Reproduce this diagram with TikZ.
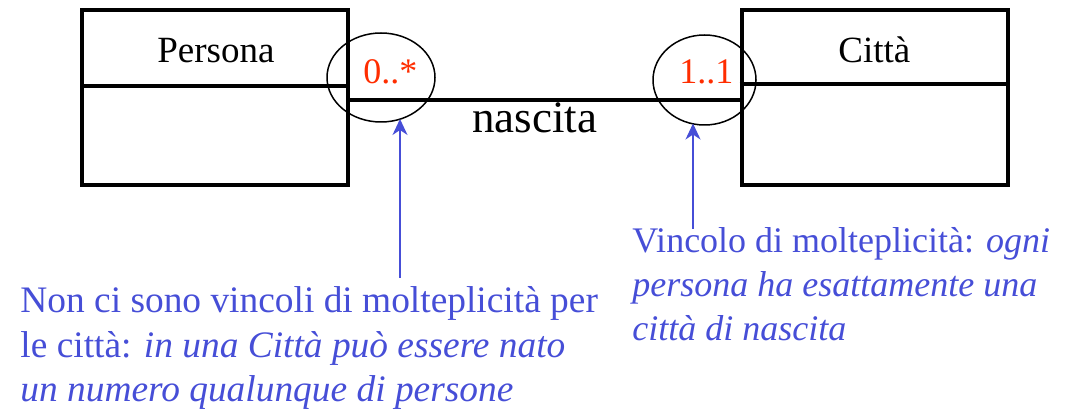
\documentclass[tikz,border=0pt]{standalone}
\usepackage{fontspec}
\setmainfont{Liberation Serif}
\usetikzlibrary{arrows.meta,shapes.geometric}

\definecolor{multred}{RGB}{255,45,0}
\definecolor{noteblue}{RGB}{70,78,215}

\begin{document}
\begin{tikzpicture}[x=0.5pt, y=-0.5pt,
	classbox/.style={draw, line width=2pt, minimum width=133pt, minimum height=87.5pt, inner sep=0pt},
	multring/.style={draw, ellipse, line width=0.75pt, inner sep=0pt},
	multtext/.style={text=multred, font=\fontsize{18}{22}\selectfont, inner sep=0pt, anchor=base west},
	note/.style={text=noteblue, font=\fontsize{18}{22}\selectfont, align=left, inner sep=0pt, anchor=base west},
	notearrow/.style={noteblue, line width=0.8pt, -{Stealth[length=8pt, width=7.5pt, inset=2.5pt]}}]
	\useasboundingbox (0,0) rectangle (1074,410);
	% classes
	\node[classbox] (persona) at (215,97.5) {};
	\node[classbox] (citta) at (874.5,97.5) {};
	\draw[line width=2pt] (persona.west |- 0,86) -- (persona.east |- 0,86);
	\draw[line width=2pt] (citta.west |- 0,84) -- (citta.east |- 0,84);
	\node[anchor=base west, inner sep=0pt, font=\fontsize{18.5}{22}\selectfont] (personaname) at (157,63) {Persona};
	\node[anchor=base west, inner sep=0pt, font=\fontsize{18.5}{22}\selectfont] (cittaname) at (838,63) {Città};
	% association
	\draw[line width=2pt] (persona.east |- 0,100) -- (citta.west |- 0,100);
	\node[anchor=base west, inner sep=0pt, font=\fontsize{22.5}{26}\selectfont] (assoc) at (472,133) {nascita};
	% multiplicities
	\node[multring, minimum width=54pt, minimum height=44.5pt] (mult0) at (381,77.5) {};
	\node[multring, minimum width=51.5pt, minimum height=45pt] (mult1) at (704.5,80) {};
	\node[multtext] (lab0) at (363,84) {0..*};
	\node[multtext] (lab1) at (679,84) {1..1};
	% notes (base = last line)
	\node[note, font=\fontsize{18.7}{22}\selectfont] (note0) at (20,401) {Non ci sono vincoli di molteplicità per\\
		le città: \textit{in una Città può essere nato}\\
		\textit{un numero qualunque di persone}};
	\node[note] (note1) at (632,341) {Vincolo di molteplicità: \textit{ogni}\\
		\textit{persona ha esattamente una}\\
		\textit{città di nascita}};
	\coordinate (from0) at (400,278);
	\coordinate (tip0) at (400,119);
	\coordinate (from1) at (693,229);
	\coordinate (tip1) at (693,123.5);
	\draw[notearrow] (from0) -- (tip0);
	\draw[notearrow] (from1) -- (tip1);
\end{tikzpicture}
\end{document}
